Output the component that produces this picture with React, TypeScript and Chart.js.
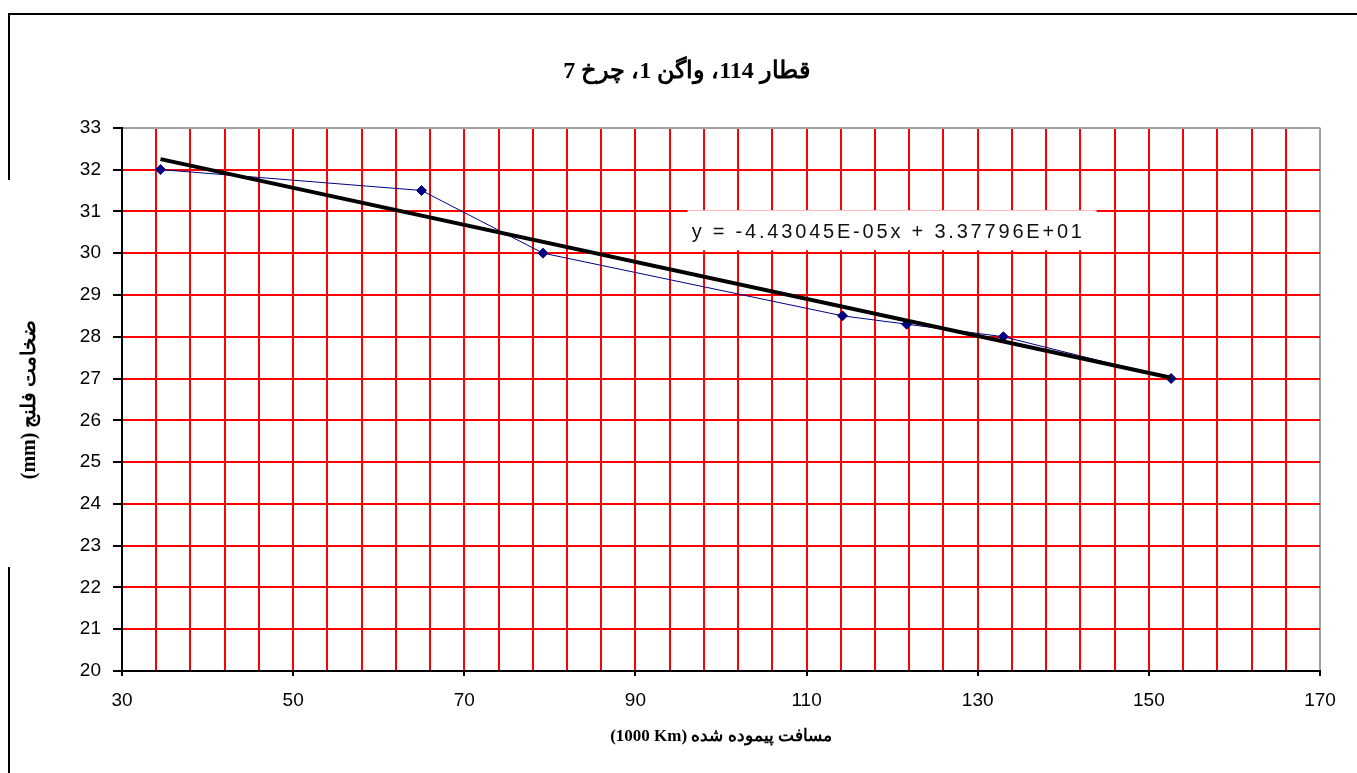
import React, { useEffect, useRef } from "react";
import { Chart, registerables } from "chart.js";

Chart.register(...registerables);

// ---- text ----
const titleText = "قطار 114، واگن 1، چرخ 7";
const xAxisTitle = "مسافت پیموده شده \u2066(1000 Km)\u2069";
const yAxisTitle = "ضخامت فلنج (mm)";
const equationText = "y = -4.43045E-05x + 3.37796E+01";

// ---- data ----
const distances = [34.5, 65, 79.2, 114.2, 121.7, 133, 152.6]; // 1000 Km
const thickness = [32, 31.5, 30, 28.5, 28.3, 28, 27]; // mm

// trend line coefficients (x in Km)
const trendSlope = -4.43045e-5;
const trendIntercept = 33.7796;

// ---- axes ----
const xMin = 30;
const xMax = 170;
const xGridStep = 4;
const xLabelStep = 20;
const yMin = 20;
const yMax = 33;
const yStep = 1;

const trendY = (x: number) => trendIntercept + trendSlope * 1000 * x;

const equationPlugin = {
  id: "equationLabel",
  beforeDatasetsDraw(chart: any) {
    const { ctx, scales } = chart;
    const xs = scales.x;
    const ys = scales.y;
    const left = xs.getPixelForValue(96.1);
    const cy = ys.getPixelForValue(30.5);
    ctx.save();
    ctx.fillStyle = "#ffffff";
    ctx.fillRect(left, cy - 22, 409, 40);
    ctx.direction = "ltr";
    try {
      ctx.letterSpacing = "2.8px";
    } catch (e) {}
    ctx.font = '20px "Liberation Sans", Arial, sans-serif';
    ctx.fillStyle = "#111111";
    ctx.textAlign = "left";
    ctx.textBaseline = "middle";
    ctx.fillText(equationText, left + 4, cy);
    ctx.restore();
  },
};

export default function App() {
  const canvasRef = useRef<HTMLCanvasElement | null>(null);

  useEffect(() => {
    const canvas = canvasRef.current;
    if (!canvas) return;
    const points = distances.map((d, i) => ({ x: d, y: thickness[i] }));
    const first = distances[0];
    const last = distances[distances.length - 1];
    const trendPoints = [
      { x: first, y: trendY(first) },
      { x: last, y: trendY(last) },
    ];

    const chart = new Chart(canvas, {
      type: "scatter",
      data: {
        datasets: [
          {
            label: "trend",
            data: trendPoints,
            showLine: true,
            borderColor: "#000000",
            borderWidth: 4,
            pointRadius: 0,
            order: 0,
          },
          {
            label: "thickness",
            data: points,
            showLine: true,
            borderColor: "#000080",
            backgroundColor: "#000080",
            borderWidth: 1,
            pointStyle: "rectRot",
            pointRadius: 5,
            order: 1,
          },
        ],
      },
      options: {
        responsive: false,
        animation: false,
        layout: { padding: { left: 16, right: 0, top: 0, bottom: 0 } },
        plugins: {
          legend: { display: false },
          tooltip: { enabled: false },
          title: {
            display: true,
            text: titleText,
            color: "#000000",
            font: {
              family: '"Liberation Serif", "Times New Roman", serif',
              size: 24,
              weight: "bold",
            },
            padding: { top: 57, bottom: 42 },
          },
        },
        scales: {
          x: {
            type: "linear",
            min: xMin,
            max: xMax,
            afterFit: (s: any) => {
              s.height = 102;
            },
            ticks: {
              stepSize: xGridStep,
              autoSkip: false,
              maxRotation: 0,
              padding: 13,
              color: "#000000",
              font: { family: '"Liberation Sans", Arial, sans-serif', size: 19 },
              callback: (v: any) =>
                (Number(v) - xMin) % xLabelStep === 0 ? String(v) : "",
            },
            grid: {
              lineWidth: 2,
              color: (c: any) => {
                const v = c.tick ? c.tick.value : null;
                if (v === xMin) return "rgba(0,0,0,0)";
                if (v === xMax) return "#a0a0a0";
                return "#ff0000";
              },
              drawTicks: true,
              tickLength: 5,
              tickWidth: 2,
              tickColor: (c: any) => {
                const v = c.tick ? c.tick.value : 0;
                return (v - xMin) % xLabelStep === 0 ? "#000000" : "rgba(0,0,0,0)";
              },
            },
            border: { display: true, color: "#000000", width: 2 },
            title: {
              display: true,
              text: xAxisTitle,
              color: "#000000",
              font: {
                family: '"Liberation Serif", "Times New Roman", serif',
                size: 17,
                weight: "bold",
              },
              padding: { top: 0, bottom: 26 },
            },
          },
          y: {
            type: "linear",
            position: "left",
            min: yMin,
            max: yMax,
            afterFit: (s: any) => {
              s.width = 106;
            },
            ticks: {
              stepSize: yStep,
              padding: 12,
              color: "#000000",
              font: { family: '"Liberation Sans", Arial, sans-serif', size: 19 },
            },
            grid: {
              lineWidth: 2,
              color: (c: any) => {
                const v = c.tick ? c.tick.value : null;
                if (v === yMin) return "rgba(0,0,0,0)";
                if (v === yMax) return "#a0a0a0";
                return "#ff0000";
              },
              drawTicks: true,
              tickLength: 9,
              tickWidth: 2,
              tickColor: "#000000",
            },
            border: { display: true, color: "#000000", width: 2 },
            title: {
              display: true,
              text: yAxisTitle,
              color: "#000000",
              font: {
                family: '"Liberation Serif", "Times New Roman", serif',
                size: 20,
                weight: "bold",
              },
              padding: { top: 2, bottom: 2 },
            },
          },
          y2: {
            type: "linear",
            position: "right",
            min: 0,
            max: 1,
            afterFit: (s: any) => {
              s.width = 37;
            },
            ticks: { display: false },
            grid: { display: false, drawTicks: false },
            border: { display: false },
          },
        },
      },
      plugins: [equationPlugin],
    } as any);

    return () => chart.destroy();
  }, []);

  return (
    <div>
      <canvas
        ref={canvasRef}
        width={1357}
        height={773}
        dir="rtl"
        style={{ position: "absolute", left: 0, top: 0, width: 1357, height: 773, background: "#ffffff" }}
      />
      <div style={{ position: "absolute", left: 8, top: 13, width: 1349, height: 2, background: "#000000" }} />
      <div style={{ position: "absolute", left: 8, top: 13, width: 2, height: 167, background: "#000000" }} />
      <div style={{ position: "absolute", left: 8, top: 567, width: 2, height: 206, background: "#000000" }} />
    </div>
  );
}
